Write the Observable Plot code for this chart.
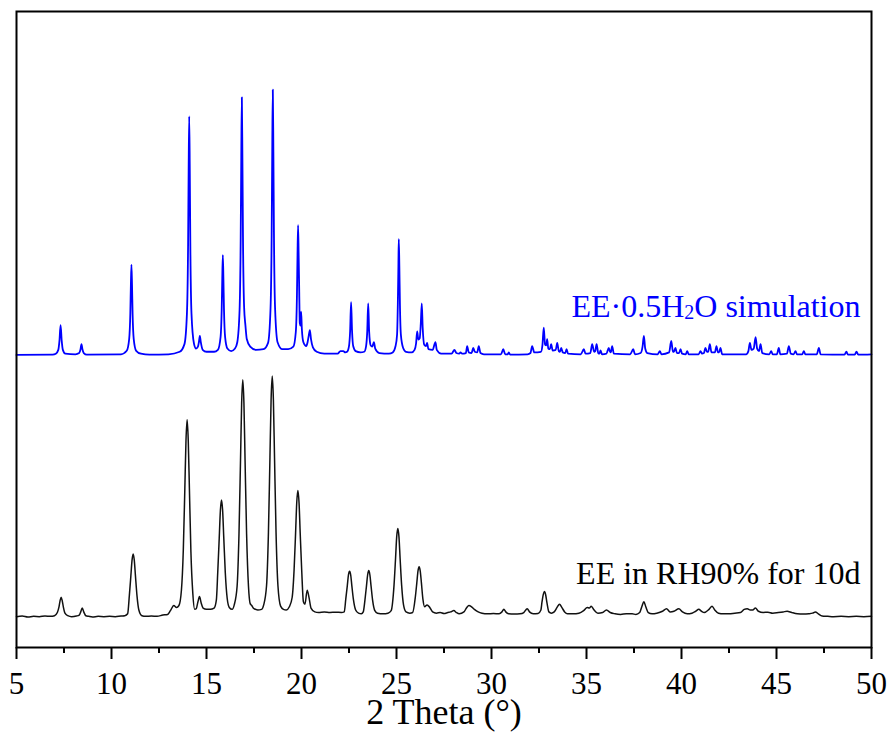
<!DOCTYPE html>
<html><head><meta charset="utf-8">
<script src="https://cdn.jsdelivr.net/npm/d3@7"></script>
<script src="https://cdn.jsdelivr.net/npm/@observablehq/plot@0.6"></script>
<style>
body{margin:0;background:#fff}
#chart svg text{font-family:"Liberation Serif","Times New Roman",Times,serif !important;font-variant:normal !important}
</style>
</head><body><div id="chart"></div>
<script>
// x axis ticks (2θ, degrees)
const xTicks = [5, 10, 15, 20, 25, 30, 35, 40, 45, 50];
const xMinorTicks = [7.5, 12.5, 17.5, 22.5, 27.5, 32.5, 37.5, 42.5, 47.5];
const seriesNames = ["EE·0.5H2O simulation", "EE in RH90% for 10d"];
const axisTitle = "2 Theta (°)";
const simOffset = 46; // vertical offset of the simulated pattern (a.u.)

// Simulated pattern: [2θ, intensity (a.u.)]
const simulated = [
[5,0],[6.9,0.05],[7.07,0.2],[7.2,0.8],[7.26,2.2],[7.32,4.7],[7.38,2.2],[7.44,0.8],[7.57,0.2],[8.1,0.1],
[8.3,0.3],[8.37,0.9],[8.42,1.7],[8.47,0.9],[8.54,0.3],[8.7,0.05],[10.5,0.1],[10.8,0.65],[10.93,2.5],[10.99,6.5],
[11.02,11],[11.05,14.2],[11.08,11],[11.11,6.5],[11.17,2.5],[11.3,0.65],[11.55,0.2],[12.0,0.05],[13.0,0.1],[13.59,0.5],
[13.84,1.7],[13.97,6.5],[14.03,17],[14.06,29],[14.09,37.5],[14.12,29],[14.15,17],[14.21,6.5],[14.34,1.8],[14.45,1.0],
[14.55,1.3],[14.6,2.0],[14.65,3.0],[14.7,2.0],[14.8,0.8],[15.0,0.5],[15.4,0.5],[15.6,0.8],[15.74,2.8],[15.8,7.2],
[15.83,12],[15.86,15.7],[15.89,12],[15.92,7.2],[15.98,2.8],[16.1,1.0],[16.3,0.6],[16.5,1.0],[16.62,2.0],[16.74,7],
[16.8,18.5],[16.83,31],[16.86,40.5],[16.89,31],[16.92,18.5],[16.98,7.5],[17.05,4.6],[17.12,2.5],[17.3,1.3],[17.6,0.8],
[18.0,0.9],[18.24,1.9],[18.37,7.3],[18.43,19],[18.46,32],[18.49,41.7],[18.52,32],[18.55,19],[18.61,7.3],[18.74,2.0],
[18.99,0.9],[19.3,0.9],[19.57,1.3],[19.7,3.6],[19.76,9.3],[19.79,15.7],[19.82,20.4],[19.85,15.7],[19.88,10],[19.91,5.0],
[19.95,4.6],[19.98,6.8],[20.02,4.0],[20.1,2.0],[20.25,1.4],[20.32,2.0],[20.38,3.0],[20.44,3.9],[20.5,2.5],[20.6,1.2],
[20.8,0.5],[21.2,0.2],[21.9,0.2],[22.05,0.6],[22.2,0.6],[22.3,0.4],[22.4,0.5],[22.5,1.4],[22.56,3.8],[22.61,8.3],
[22.66,3.8],[22.72,1.4],[22.85,0.6],[23.1,0.4],[23.3,0.5],[23.4,1.4],[23.46,3.7],[23.51,8.1],[23.56,3.7],[23.64,1.5],
[23.72,1.3],[23.81,2.0],[23.88,1.0],[24.1,0.3],[24.6,0.2],[24.8,0.4],[24.95,1.4],[25.03,3.2],[25.07,8],[25.1,14],
[25.12,18.2],[25.15,14],[25.18,8],[25.23,3.2],[25.35,1.1],[25.5,0.5],[25.8,0.4],[25.95,0.8],[26.03,1.8],[26.09,3.7],
[26.15,2.4],[26.22,2.6],[26.28,5],[26.33,8.1],[26.38,4.2],[26.46,1.6],[26.55,1.4],[26.61,1.9],[26.68,0.9],[26.9,0.8],
[27.05,2.0],[27.12,0.8],[27.35,0.2],[27.9,0.2],[28.05,0.8],[28.15,0.3],[28.3,0.2],[28.37,0.4],[28.45,0.2],[28.65,0.3],
[28.72,1.4],[28.8,0.4],[28.95,0.3],[29.04,1.1],[29.12,0.5],[29.25,0.4],[29.33,1.4],[29.42,0.3],[29.6,0.1],[30.5,0.1],
[30.62,0.9],[30.72,0.1],[30.85,0.1],[30.91,0.4],[30.98,0.05],[31.9,0.1],[32.05,0.3],[32.14,1.4],[32.25,0.4],[32.6,0.5],
[32.68,1.5],[32.75,4.3],[32.82,1.6],[32.88,1.5],[32.93,2.5],[32.99,1.0],[33.07,0.9],[33.14,1.7],[33.22,0.7],[33.38,0.8],
[33.46,1.9],[33.54,0.6],[33.6,0.5],[33.67,1.1],[33.75,0.4],[33.88,0.3],[33.95,0.9],[34.03,0.2],[34.7,0.1],[34.86,0.9],
[34.95,0.2],[35.2,0.3],[35.3,1.7],[35.4,0.5],[35.46,0.6],[35.53,1.7],[35.62,0.3],[35.68,0.2],[35.74,0.7],[35.82,0.1],
[36.05,0.2],[36.17,1.1],[36.25,0.4],[36.29,0.5],[36.35,1.4],[36.44,0.2],[37.3,0.1],[37.46,0.9],[37.55,0.1],[37.85,0.3],
[37.95,1.3],[38.02,3.0],[38.09,1.0],[38.2,0.3],[38.75,0.1],[38.86,0.6],[38.95,0.1],[39.35,0.4],[39.46,2.2],[39.55,0.5],
[39.6,0.5],[39.68,1.1],[39.76,0.3],[39.87,0.3],[39.95,0.9],[40.03,0.2],[40.22,0.1],[40.3,0.6],[40.38,0.1],[40.9,0.1],
[41.0,0.6],[41.08,0.2],[41.18,0.3],[41.26,1.1],[41.34,0.5],[41.41,0.5],[41.49,1.7],[41.58,0.4],[41.76,0.4],[41.84,1.4],
[41.92,0.4],[41.98,0.4],[42.05,1.1],[42.14,0.1],[43.4,0.1],[43.52,0.6],[43.6,1.9],[43.68,0.8],[43.8,1.0],[43.9,2.8],
[43.98,1.0],[44.08,0.6],[44.16,1.7],[44.25,0.3],[44.62,0.1],[44.72,0.6],[44.8,0.1],[45.02,0.1],[45.12,1.1],[45.2,0.1],
[45.55,0.2],[45.65,1.4],[45.75,0.2],[45.9,0.1],[46.0,0.6],[46.08,0.1],[46.35,0.1],[46.44,0.6],[46.52,0.1],[47.12,0.1],
[47.23,1.1],[47.32,0.1],[48.58,0.05],[48.68,0.5],[48.76,0.05],[49.12,0.05],[49.21,0.5],[49.3,0.05],[50,0.1]
];

// Measured pattern (EE in RH90% for 10d): [2θ, intensity (a.u.)]
const measured = [
[5,4.85],[5.3,4.95],[5.6,4.8],[5.9,4.9],[6.2,4.85],[6.5,4.95],[6.8,4.9],[7.0,5.0],[7.15,5.5],[7.23,6.3],
[7.29,7.3],[7.35,7.9],[7.41,7.3],[7.47,6.3],[7.55,5.4],[7.7,5.0],[7.9,4.85],[8.15,4.95],[8.3,5.1],[8.38,5.6],
[8.46,6.2],[8.54,5.6],[8.65,5.0],[8.8,4.9],[9.0,4.8],[9.3,4.9],[9.6,4.85],[9.9,4.9],[10.2,4.85],[10.5,4.95],
[10.7,5.0],[10.85,5.3],[10.94,8.2],[11.02,11.3],[11.08,13.7],[11.14,14.7],[11.2,13.7],[11.26,11.3],[11.34,8.2],[11.44,5.9],
[11.6,5.0],[11.8,4.9],[12.1,4.95],[12.4,4.9],[12.7,5.1],[12.95,5.2],[13.1,5.8],[13.28,6.6],[13.42,6.3],[13.55,6.6],
[13.68,9.0],[13.78,15.4],[13.86,25],[13.92,32.5],[13.98,35.8],[14.04,32.5],[14.1,25],[14.18,15],[14.28,8.5],[14.38,6.0],
[14.46,6.1],[14.55,7.2],[14.63,8.0],[14.72,7.0],[14.82,6.2],[15.0,6.0],[15.2,6.0],[15.4,6.2],[15.52,7.5],[15.59,11.7],
[15.67,17.2],[15.73,21.5],[15.79,23.2],[15.85,21.5],[15.91,17.2],[15.99,11.7],[16.09,7.7],[16.2,6.3],[16.35,6.0],[16.46,6.7],
[16.61,9.6],[16.71,17.9],[16.79,29.4],[16.85,38.4],[16.91,42.1],[16.97,38.4],[17.03,29.4],[17.11,17.9],[17.21,9.6],[17.3,6.9],
[17.38,6.6],[17.5,6.1],[17.7,5.9],[17.9,6.0],[18.01,6.7],[18.16,9.7],[18.26,18.1],[18.34,29.9],[18.4,39],[18.46,42.7],
[18.52,39],[18.58,29.9],[18.66,18.1],[18.76,9.7],[18.9,6.5],[19.05,6.0],[19.2,5.9],[19.36,6.4],[19.51,7.9],[19.61,12.2],
[19.69,18.1],[19.75,22.8],[19.81,24.7],[19.87,22.8],[19.93,18.1],[20.01,12.2],[20.1,7.2],[20.18,6.8],[20.3,9.0],[20.4,7.8],
[20.5,6.2],[20.7,5.6],[20.9,5.5],[21.2,5.6],[21.5,5.5],[21.8,5.55],[22.1,5.5],[22.25,5.6],[22.33,7.6],[22.41,9.7],
[22.47,11.4],[22.53,12.0],[22.59,11.4],[22.65,9.7],[22.73,7.6],[22.85,5.9],[23.0,5.4],[23.15,5.3],[23.25,5.6],[23.34,7.5],
[23.42,9.7],[23.48,11.4],[23.54,12.1],[23.6,11.4],[23.66,9.7],[23.74,7.5],[23.86,5.8],[24.0,5.4],[24.3,5.3],[24.55,5.4],
[24.72,5.8],[24.87,9.8],[24.95,14.0],[25.01,17.4],[25.07,18.7],[25.13,17.4],[25.19,14.0],[25.27,9.8],[25.37,6.7],[25.5,5.6],
[25.7,5.4],[25.85,5.5],[25.99,7.9],[26.07,10.2],[26.13,12.0],[26.19,12.7],[26.25,12.0],[26.31,10.2],[26.39,7.6],[26.48,6.4],
[26.61,6.7],[26.75,6.3],[26.9,5.6],[27.1,5.4],[27.3,5.5],[27.5,5.35],[27.7,5.5],[27.85,5.6],[28.02,5.8],[28.15,5.5],
[28.3,5.3],[28.55,5.6],[28.7,6.3],[28.81,6.6],[28.95,6.4],[29.1,6.0],[29.3,5.6],[29.5,5.4],[29.8,5.3],[30.1,5.35],
[30.4,5.3],[30.55,5.6],[30.65,6.0],[30.75,5.6],[30.9,5.3],[31.2,5.25],[31.5,5.3],[31.7,5.5],[31.88,6.1],[32.0,5.6],
[32.2,5.3],[32.45,5.35],[32.6,5.9],[32.66,7.2],[32.73,8.4],[32.79,8.8],[32.85,8.3],[32.92,7.0],[33.02,5.6],[33.15,5.4],
[33.3,5.6],[33.45,6.3],[33.58,6.8],[33.7,6.3],[33.85,5.6],[34.0,5.3],[34.3,5.3],[34.6,5.4],[34.85,5.8],[35.04,6.3],
[35.15,6.2],[35.25,6.5],[35.4,5.9],[35.6,5.4],[35.85,5.5],[36.05,5.9],[36.25,5.5],[36.5,5.3],[36.8,5.2],[37.1,5.3],
[37.4,5.3],[37.6,5.2],[37.8,5.5],[37.92,6.5],[38.02,7.2],[38.12,6.4],[38.25,5.5],[38.45,5.3],[38.7,5.4],[39.0,5.7],
[39.21,6.1],[39.4,5.6],[39.6,5.7],[39.86,6.1],[40.05,5.6],[40.3,5.3],[40.55,5.4],[40.75,5.7],[40.91,6.0],[41.05,5.7],
[41.2,5.5],[41.45,6.0],[41.61,6.5],[41.75,5.9],[41.95,5.4],[42.2,5.3],[42.5,5.3],[42.8,5.4],[43.1,5.5],[43.3,6.0],
[43.46,6.1],[43.62,5.9],[43.75,5.9],[43.89,6.2],[44.05,5.7],[44.3,5.5],[44.55,5.55],[44.8,5.4],[45.1,5.5],[45.35,5.6],
[45.56,5.7],[45.8,5.5],[46.1,5.3],[46.4,5.25],[46.7,5.3],[46.9,5.4],[47.05,5.6],[47.2,5.3],[47.4,4.95],[47.7,4.9],
[48.0,4.85],[48.4,4.9],[48.8,4.85],[49.2,4.9],[49.6,4.85],[50,4.9]
];

const simRows = simulated.map(([t, v]) => ({theta: t, intensity: v + simOffset}));
const measRows = measured.map(([t, v]) => ({theta: t, intensity: v}));

const serif = "'Liberation Serif', 'Times New Roman', Times, serif";

const chart = Plot.plot({
  width: 892,
  height: 736,
  marginLeft: 16,
  marginRight: 21,
  marginTop: 11,
  marginBottom: 89,
  style: {fontFamily: serif, background: "#fff", color: "#000"},
  x: {domain: [5, 50]},
  y: {domain: [0, 100], axis: null},
  marks: [
    Plot.line(simRows, {x: "theta", y: "intensity", stroke: "#0000ff", strokeWidth: 1.8, curve: "monotone-x"}),
    Plot.line(measRows, {x: "theta", y: "intensity", stroke: "#111", strokeWidth: 1.5, curve: "monotone-x"}),
    Plot.axisX({ticks: xMinorTicks, tickSize: 6, tickFormat: () => "", strokeWidth: 2, label: null}),
    Plot.axisX({ticks: xTicks, tickSize: 12, tickPadding: 12, fontSize: 31, fontFamily: serif, strokeWidth: 2, label: null, tickFormat: d => String(d)}),
    Plot.frame({stroke: "#000", strokeWidth: 2}),
    Plot.text([seriesNames[0]], {frameAnchor: "right", dx: -11, y: 51.9, textAnchor: "end", lineAnchor: "bottom", fill: "#0000ff", fontSize: 32, fontFamily: serif, className: "sim-label"}),
    Plot.text([seriesNames[1]], {frameAnchor: "right", dx: -11, y: 10.0, textAnchor: "end", lineAnchor: "bottom", fill: "#000", fontSize: 32, fontFamily: serif}),
    Plot.text([axisTitle], {frameAnchor: "bottom", dy: 76, lineAnchor: "bottom", fontSize: 36, fontFamily: serif, fill: "#000"})
  ]
});

// Render the "2" of H2O as a subscript
d3.select(chart).selectAll("g.sim-label text").each(function() {
  const t = d3.select(this);
  const s = t.text();
  const i = s.indexOf("H2O");
  if (i < 0) return;
  t.text(null);
  t.append("tspan").text(s.slice(0, i + 1));
  t.append("tspan").attr("font-size", 20).attr("dy", 2).text("2");
  t.append("tspan").attr("dy", -2).text(s.slice(i + 2));
});

document.getElementById("chart").appendChild(chart);
</script>
</body></html>
